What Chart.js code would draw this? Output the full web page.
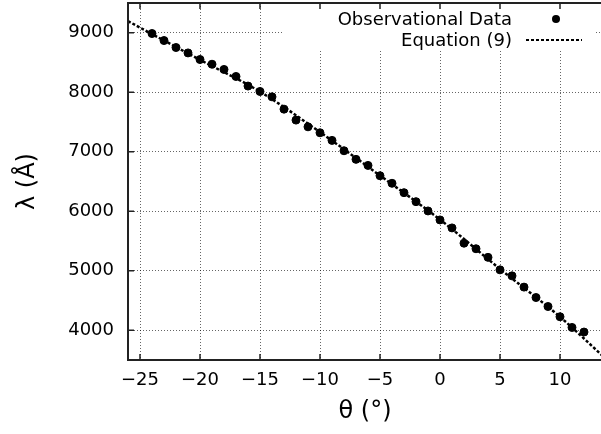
<!DOCTYPE html>
<html>
<head>
<meta charset="utf-8">
<script src="https://cdn.jsdelivr.net/npm/chart.js@4/dist/chart.umd.min.js"></script>
<style>
  html, body { margin: 0; padding: 0; background: #fff; overflow: hidden; }
  #c { display: block; }
</style>
</head>
<body>
<canvas id="c" width="602" height="434"></canvas>
<script>
// ---- data ----
const theta = [-24,-23,-22,-21,-20,-19,-18,-17,-16,-15,-14,-13,-12,-11,-10,-9,-8,-7,-6,-5,-4,-3,-2,-1,0,1,2,3,4,5,6,7,8,9,10,11,12];
const lambda = [8987,8869,8752,8661,8550,8471,8383,8265,8104,8013,7923,7716,7532,7419,7319,7191,7017,6872,6770,6597,6470,6312,6161,6005,5854,5720,5463,5370,5225,5015,4914,4725,4550,4399,4227,4047,3970];
const eqTheta = [-26,-20,-15,-10,-5,0,5,10,13.5];
const eqLambda = [9195,8545,8010,7330,6600,5860,5030,4225,3580];
const xTicks = [-25,-20,-15,-10,-5,0,5,10];
const yTicks = [4000,5000,6000,7000,8000,9000];
const seriesLabels = ['Observational Data', 'Equation (9)'];
const xTitle = '\u03b8 (\u00b0)';
const yTitle = '\u03bb (\u00c5)';

const FONT = 'DejaVu Sans';
Chart.defaults.font.family = FONT;
Chart.defaults.color = '#000';

const fmt = v => String(v).replace('-', '\u2212');

const gnuplotFrame = {
  id: 'gnuplotFrame',
  beforeDatasetsDraw(chart) {
    const ctx = chart.ctx, a = chart.chartArea;
    ctx.save();
    ctx.fillStyle = '#fff';
    ctx.fillRect(283, a.top, 312, 47);
    ctx.restore();
  },
  afterDraw(chart) {
    const ctx = chart.ctx, a = chart.chartArea;
    const xs = chart.scales.x, ys = chart.scales.y;
    ctx.save();
    ctx.strokeStyle = '#222';
    ctx.lineWidth = 2;
    ctx.setLineDash([]);
    ctx.beginPath();
    ctx.moveTo(a.right + 2, a.top); ctx.lineTo(a.left, a.top);
    ctx.lineTo(a.left, a.bottom); ctx.lineTo(a.right + 2, a.bottom);
    ctx.stroke();
    ctx.lineWidth = 1.5;
    ctx.beginPath();
    xTicks.forEach(v => {
      const px = xs.getPixelForValue(v);
      ctx.moveTo(px, a.bottom); ctx.lineTo(px, a.bottom - 6);
      ctx.moveTo(px, a.top); ctx.lineTo(px, a.top + 6);
    });
    yTicks.forEach(v => {
      const py = ys.getPixelForValue(v);
      ctx.moveTo(a.left, py); ctx.lineTo(a.left + 6, py);
    });
    ctx.stroke();

    // key (gnuplot style, text right-aligned, sample on the right)
    const ds = chart.data.datasets;
    ctx.font = '18px ' + FONT;
    ctx.fillStyle = '#000';
    ctx.textAlign = 'right';
    ctx.textBaseline = 'middle';
    ctx.fillText(ds[0].label, 512, 20);
    ctx.fillText(ds[1].label, 512, 41);
    ctx.beginPath();
    ctx.arc(556, 19, 4, 0, Math.PI * 2);
    ctx.fillStyle = ds[0].backgroundColor;
    ctx.fill();
    ctx.strokeStyle = ds[1].borderColor;
    ctx.lineWidth = 2;
    ctx.setLineDash([3, 2]);
    ctx.beginPath();
    ctx.moveTo(526, 40); ctx.lineTo(582, 40);
    ctx.stroke();
    ctx.restore();
  }
};

function noPad(s) {
  s.paddingTop = 0; s.paddingBottom = 0; s.paddingLeft = 0; s.paddingRight = 0;
}

new Chart(document.getElementById('c'), {
  type: 'scatter',
  data: {
    datasets: [
      {
        label: seriesLabels[0],
        data: theta.map((t, i) => ({ x: t, y: lambda[i] })),
        backgroundColor: '#000',
        borderColor: '#000',
        pointRadius: 4,
        pointHoverRadius: 4,
        showLine: false,
        order: 2
      },
      {
        label: seriesLabels[1],
        data: eqTheta.map((t, i) => ({ x: t, y: eqLambda[i] })),
        borderColor: '#000',
        backgroundColor: '#000',
        borderWidth: 2.5,
        borderDash: [3, 2],
        pointRadius: 0,
        showLine: true,
        cubicInterpolationMode: 'monotone',
        order: 1
      }
    ]
  },
  options: {
    responsive: false,
    animation: false,
    devicePixelRatio: 1,
    events: [],
    layout: { autoPadding: false, padding: { top: 3, right: 0, left: 0, bottom: 0 } },
    plugins: { legend: { display: false }, tooltip: { enabled: false } },
    scales: {
      x: {
        type: 'linear',
        min: -26,
        max: 13.5,
        afterBuildTicks: s => { s.ticks = xTicks.map(v => ({ value: v })); },
        afterFit: s => { s.height = 74; noPad(s); },
        ticks: { callback: fmt, font: { size: 18 }, padding: 10, color: '#000', maxRotation: 0 },
        grid: { drawTicks: false, color: 'rgba(0,0,0,0.6)', lineWidth: 1 },
        border: { display: false, dash: [1, 2] },
        title: { display: true, text: xTitle, font: { size: 24 }, padding: { top: 0, bottom: 8 }, color: '#000' }
      },
      y: {
        type: 'linear',
        min: 3500,
        max: 9500,
        afterBuildTicks: s => { s.ticks = yTicks.map(v => ({ value: v })); },
        afterFit: s => { s.width = 128; noPad(s); },
        ticks: { callback: v => String(v), font: { size: 18 }, padding: 14, color: '#000' },
        grid: { drawTicks: false, color: 'rgba(0,0,0,0.6)', lineWidth: 1 },
        border: { display: false, dash: [1, 2] },
        title: { display: true, text: yTitle, font: { size: 24 }, padding: { top: 13, bottom: 0 }, color: '#000' }
      }
    }
  },
  plugins: [gnuplotFrame]
});
</script>
</body>
</html>
